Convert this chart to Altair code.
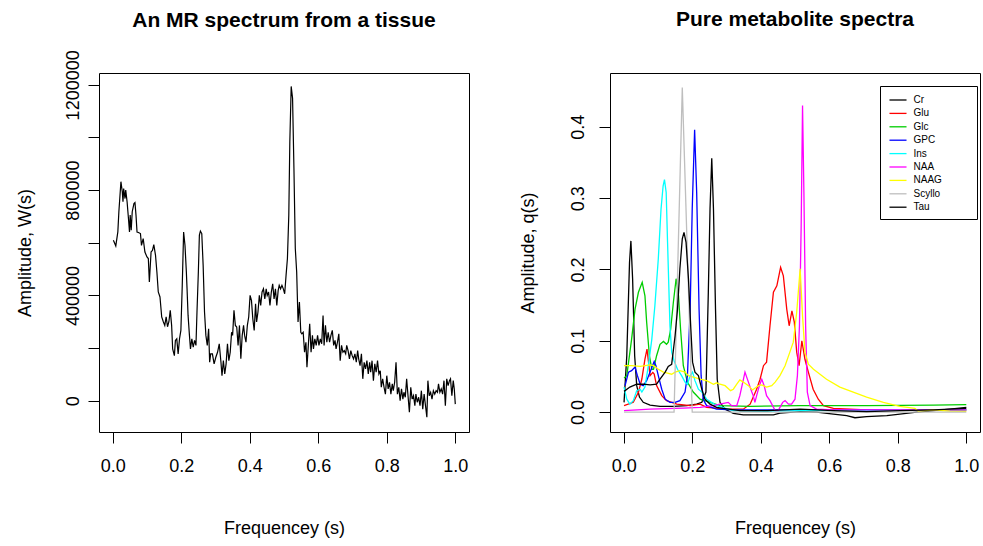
import altair as alt
import pandas as pd

FONT = "Liberation Sans"

# ---------------- left panel: tissue spectrum ----------------
w_freq = [0.002,0.009,0.015,0.018,0.024,0.028,0.030,0.032,0.036,0.038,0.042,0.046,0.049,0.051,0.054,0.057,
          0.062,0.065,0.068,0.071,0.075,0.081,0.084,0.089,0.094,0.100,0.104,0.107,0.112,0.116,0.120,0.125,
          0.129,0.133,0.138,0.143,0.148,0.152,0.156,0.160,0.164,0.168,0.172,0.175,0.180,0.183,0.187,0.191,
          0.195,0.199,0.203,0.207,0.211,0.215,0.217,0.220,0.224,0.227,0.231,0.235,0.239,0.243,0.246,0.250,
          0.253,0.256,0.260,0.264,0.268,0.272,0.276,0.280,0.283,0.286,0.291,0.296,0.301,0.306,0.311,0.316,
          0.319,0.323,0.327,0.331,0.335,0.339,0.343,0.347,0.350,0.354,0.358,0.362,0.366,0.370,0.374,0.378,
          0.382,0.385,0.389,0.393,0.397,0.401,0.405,0.409,0.413,0.417,0.420,0.424,0.428,0.432,0.436,0.440,
          0.444,0.448,0.451,0.455,0.459,0.463,0.467,0.471,0.475,0.479,0.483,0.486,0.490,0.494,0.498,0.502,
          0.506,0.510,0.514,0.517,0.521,0.525,0.529,0.533,0.537,0.541,0.545,0.549,0.552,0.556,0.560,0.564,
          0.567,0.571,0.575,0.579,0.583,0.586,0.590,0.594,0.598,0.602,0.606,0.610,0.614,0.617,0.621,0.625,
          0.629,0.633,0.637,0.641,0.645,0.649,0.652,0.656,0.660,0.664,0.668,0.672,0.676,0.680,0.683,0.687,
          0.691,0.695,0.699,0.703,0.707,0.711,0.715,0.718,0.722,0.726,0.730,0.734,0.738,0.742,0.746,0.750,
          0.753,0.757,0.761,0.765,0.769,0.773,0.777,0.781,0.784,0.788,0.792,0.796,0.800,0.804,0.808,0.812,
          0.816,0.819,0.823,0.827,0.831,0.835,0.839,0.843,0.847,0.850,0.854,0.858,0.862,0.866,0.870,0.874,
          0.878,0.882,0.885,0.889,0.893,0.897,0.901,0.905,0.909,0.913,0.917,0.920,0.924,0.928,0.932,0.936,
          0.940,0.944,0.948,0.951,0.955,0.959,0.963,0.967,0.971,0.975,0.979,0.983,0.986,0.990,0.994,0.997,1.000]
w_amp = [609500,588000,641500,717700,832000,794000,756000,806000,768000,800000,756000,692000,641000,705000,648000,718000,
         749000,753000,705000,641000,639000,635000,590000,616000,565000,546000,540000,451000,565000,571000,593000,552000,
         489000,413000,394000,318000,299000,286000,319000,281000,300000,343000,286000,197000,171000,229000,235000,178000,
         235000,267000,438000,641000,590000,489000,425000,324000,248000,197000,235000,203000,229000,210000,337000,489000,
         629000,644000,635000,514000,337000,248000,210000,273000,146000,178000,178000,140000,165000,184000,216000,146000,
         95000,152000,102000,140000,216000,152000,184000,260000,248000,343000,286000,280000,210000,286000,159000,248000,
         286000,248000,222000,286000,318000,400000,381000,311000,267000,368000,299000,337000,400000,362000,413000,425000,
         387000,425000,400000,413000,362000,413000,444000,387000,425000,362000,419000,438000,425000,438000,425000,406000,
         476000,540000,705000,984000,1194000,1149000,883000,578000,489000,299000,375000,260000,254000,260000,184000,222000,
         127000,210000,292000,184000,248000,197000,235000,210000,248000,210000,235000,216000,324000,210000,286000,222000,
         260000,222000,248000,267000,210000,229000,197000,222000,254000,152000,210000,184000,190000,178000,210000,190000,
         159000,190000,171000,159000,178000,146000,190000,159000,133000,178000,83000,146000,121000,152000,102000,146000,
         108000,152000,76000,140000,108000,152000,102000,114000,51000,83000,51000,25000,95000,45000,70000,25000,
         64000,38000,70000,146000,25000,51000,0,45000,6000,32000,13000,83000,19000,-44000,51000,6000,
         19000,-19000,25000,-6000,13000,-19000,38000,-32000,25000,-19000,-63000,76000,19000,32000,6000,38000,
         25000,38000,32000,64000,32000,45000,25000,76000,-19000,83000,57000,76000,83000,19000,76000,45000,-13000]

# ---------------- right panel: pure metabolite spectra ----------------
metabolites = ["Cr", "Glu", "Glc", "GPC", "Ins", "NAA", "NAAG", "Scyllo", "Tau"]
line_colors = ["#000000", "#FF0000", "#00CD00", "#0000FF", "#00FFFF", "#FF00FF", "#FFFF00", "#BEBEBE", "#000000"]

cr_f = [0.001,0.009,0.017,0.021,0.026,0.032,0.038,0.046,0.057,0.077,0.106,0.145,0.184,0.213,0.228,0.240,0.247,0.252,
        0.257,0.262,0.268,0.273,0.281,0.296,0.320,0.349,0.398,0.437,0.456,0.515,0.563,0.612,0.651,0.675,0.709,0.768,
        0.806,0.855,0.904,0.952,1.0]
cr_q = [0.0136,0.079,0.210,0.240,0.187,0.079,0.037,0.021,0.0136,0.0098,0.008,0.008,0.009,0.011,0.0136,0.028,0.168,0.285,
        0.356,0.285,0.144,0.046,0.0136,0.004,-0.002,-0.004,-0.004,-0.004,-0.0014,0.0005,0.0,-0.003,-0.005,-0.008,-0.0065,-0.005,
        -0.003,0.0,0.002,0.004,0.0065]

glu_f = [0.001,0.028,0.043,0.053,0.062,0.068,0.077,0.085,0.089,0.096,0.111,0.125,0.155,0.194,0.223,0.242,0.301,0.349,
         0.369,0.388,0.398,0.408,0.417,0.427,0.437,0.447,0.458,0.466,0.476,0.483,0.491,0.498,0.505,0.512,0.520,0.529,
         0.539,0.553,0.568,0.583,0.612,0.709,0.904,1.0]
glu_q = [0.0089,0.0136,0.0276,0.0463,0.0743,0.0884,0.051,0.0556,0.0533,0.037,0.023,0.016,0.011,0.009,0.011,0.0065,0.004,0.004,
         0.011,0.032,0.046,0.065,0.070,0.121,0.168,0.177,0.203,0.191,0.144,0.121,0.142,0.126,0.084,0.065,0.100,0.074,
         0.056,0.032,0.018,0.009,0.005,0.003,0.003,0.003]

glc_f = [0.001,0.009,0.023,0.033,0.043,0.054,0.062,0.067,0.075,0.082,0.087,0.096,0.106,0.116,0.125,0.130,0.137,0.145,
         0.153,0.160,0.166,0.174,0.186,0.203,0.223,0.252,0.281,0.369,0.515,0.709,0.904,1.0]
glc_q = [0.0477,0.051,0.102,0.144,0.168,0.182,0.163,0.126,0.079,0.060,0.060,0.079,0.095,0.099,0.095,0.098,0.116,0.154,
         0.187,0.163,0.116,0.065,0.042,0.028,0.018,0.0136,0.009,0.008,0.009,0.009,0.0098,0.0103]

gpc_f = [0.004,0.014,0.023,0.033,0.040,0.048,0.057,0.067,0.077,0.084,0.089,0.094,0.101,0.111,0.121,0.135,0.150,0.164,
         0.179,0.186,0.194,0.200,0.207,0.213,0.220,0.226,0.232,0.242,0.271,0.320,0.515,1.0]
gpc_q = [0.037,0.056,0.058,0.063,0.051,0.039,0.037,0.044,0.056,0.065,0.071,0.065,0.051,0.032,0.018,0.0136,0.0136,0.016,
         0.028,0.051,0.144,0.285,0.396,0.308,0.144,0.051,0.018,0.009,0.004,0.003,0.003,0.003]

ins_f = [0.001,0.009,0.018,0.028,0.038,0.048,0.053,0.062,0.072,0.082,0.091,0.101,0.109,0.115,0.119,0.124,0.128,0.135,
         0.140,0.147,0.157,0.169,0.179,0.186,0.194,0.201,0.208,0.218,0.228,0.242,0.271,0.320,0.417,0.515,0.709,0.904,1.0]
ins_q = [0.035,0.018,0.011,0.016,0.030,0.032,0.028,0.035,0.065,0.102,0.149,0.215,0.285,0.317,0.326,0.308,0.238,0.121,
         0.084,0.072,0.060,0.051,0.042,0.039,0.051,0.056,0.044,0.032,0.028,0.018,0.009,0.002,0.001,0.002,0.0023,0.003,0.003]

naa_f = [0.001,0.077,0.174,0.223,0.262,0.281,0.305,0.315,0.330,0.339,0.354,0.364,0.374,0.378,0.383,0.388,0.396,0.403,
         0.410,0.417,0.427,0.442,0.451,0.464,0.471,0.481,0.490,0.500,0.507,0.513,0.518,0.522,0.526,0.531,0.536,0.544,
         0.563,0.612,1.0]
naa_q = [0.002,0.004,0.0056,0.0065,0.009,0.011,0.0136,0.009,0.009,0.023,0.056,0.042,0.028,0.023,0.0136,0.023,0.037,0.046,
         0.037,0.023,0.016,0.002,0.002,0.0136,0.016,0.011,0.011,0.018,0.051,0.121,0.261,0.430,0.308,0.121,0.028,0.009,
         0.004,0.003,0.003]

naag_f = [0.001,0.023,0.048,0.077,0.087,0.101,0.116,0.125,0.140,0.150,0.164,0.179,0.189,0.203,0.223,0.242,0.262,0.271,
          0.281,0.296,0.312,0.320,0.330,0.339,0.349,0.364,0.376,0.393,0.403,0.417,0.432,0.442,0.456,0.471,0.485,0.495,
          0.505,0.515,0.522,0.529,0.539,0.554,0.592,0.631,0.670,0.709,0.758,0.806,0.850,0.860,0.904,0.952,1.0]
naag_q = [0.065,0.065,0.064,0.066,0.065,0.060,0.056,0.055,0.053,0.056,0.058,0.056,0.051,0.049,0.046,0.044,0.039,0.041,
          0.039,0.037,0.030,0.032,0.039,0.045,0.042,0.037,0.031,0.037,0.038,0.035,0.037,0.042,0.051,0.065,0.084,0.098,
          0.140,0.201,0.135,0.084,0.067,0.060,0.046,0.035,0.028,0.021,0.0136,0.008,0.005,0.001,0.003,0.0014,0.001]

scyllo_f = [0.001,0.147,0.171,0.200,1.0]
scyllo_q = [0.0,0.0,0.455,0.0,0.0]

tau_f = [0.001,0.018,0.038,0.057,0.077,0.096,0.106,0.121,0.130,0.140,0.150,0.157,0.164,0.171,0.176,0.182,0.189,0.196,
         0.201,0.208,0.218,0.228,0.237,0.252,0.271,0.290,0.340,0.420,0.515,0.612,0.709,0.806,0.904,1.0]
tau_q = [0.029,0.035,0.039,0.039,0.038,0.039,0.046,0.056,0.064,0.067,0.107,0.144,0.201,0.243,0.252,0.238,0.187,0.116,
         0.070,0.056,0.051,0.032,0.018,0.011,0.0065,0.005,0.002,0.002,0.004,0.002,0.0005,0.002,0.003,0.005]

series = [cr_f, glu_f, glc_f, gpc_f, ins_f, naa_f, naag_f, scyllo_f, tau_f]
values = [cr_q, glu_q, glc_q, gpc_q, ins_q, naa_q, naag_q, scyllo_q, tau_q]

left_df = pd.DataFrame({"f": w_freq, "w": w_amp})
rows = []
for k, (name, fs, qs) in enumerate(zip(metabolites, series, values)):
    for i, (f, q) in enumerate(zip(fs, qs)):
        rows.append({"name": name, "f": f, "q": q, "ord": k, "i": i})
right_df = pd.DataFrame(rows)

x_ticks = [0.0, 0.2, 0.4, 0.6, 0.8, 1.0]
x_scale = alt.Scale(domain=[-0.04, 1.04], nice=False, zero=False)

def title(t, off):
    return alt.TitleParams(t, fontSize=21, font=FONT, fontWeight="bold", anchor="middle", offset=off, color="black")

left = alt.Chart(left_df).mark_line(color="black", strokeWidth=1.2, clip=True).encode(
    x=alt.X("f:Q", scale=x_scale,
            axis=alt.Axis(values=x_ticks, format=".1f", title="Frequencey (s)")),
    y=alt.Y("w:Q", scale=alt.Scale(domain=[-119000, 1245000], nice=False, zero=False),
            axis=alt.Axis(values=[0, 200000, 400000, 600000, 800000, 1000000, 1200000], format="d",
                          labelExpr="datum.value % 400000 == 0 ? datum.label : ''",
                          labelAngle=-90, labelAlign="center", labelBaseline="bottom",
                          labelPadding=6, titlePadding=30, title="Amplitude, W(s)")),
    order="f:Q",
).properties(width=370, height=359, title=title("An MR spectrum from a tissue", 19))

pad_label = "datum.label + '" + "\u00a0" * 10 + "\u200b'"

right = alt.Chart(right_df).mark_line(strokeWidth=1.3, clip=True).encode(
    x=alt.X("f:Q", scale=x_scale,
            axis=alt.Axis(values=x_ticks, format=".1f", title="Frequencey (s)")),
    y=alt.Y("q:Q", scale=alt.Scale(domain=[-0.028, 0.4755], nice=False, zero=False),
            axis=alt.Axis(values=[0.0, 0.1, 0.2, 0.3, 0.4], format=".1f",
                          labelAngle=-90, labelAlign="center", labelBaseline="bottom",
                          labelPadding=12, titlePadding=32, title="Amplitude, q(s)")),
    color=alt.Color("name:N", scale=alt.Scale(domain=metabolites, range=line_colors),
                    sort=metabolites,
                    legend=alt.Legend(orient="none", legendX=270, legendY=13, title=None,
                                      symbolType="M-1.27,0H1.27", symbolStrokeWidth=1.3, symbolSize=180,
                                      symbolFillColor="transparent", symbolOffset=4,
                                      labelFontSize=10, labelFont=FONT, labelColor="black",
                                      labelExpr=pad_label,
                                      strokeColor="black", fillColor="white", padding=6.5,
                                      rowPadding=0.4, labelOffset=8)),
    detail="ord:O",
    order="i:Q",
).properties(width=370, height=359, title=title("Pure metabolite spectra", 43))

chart = alt.hconcat(left, right, spacing=48).resolve_legend(color="independent").properties(
    padding={"left": 15, "top": 8, "right": 1, "bottom": 0}
).configure_view(stroke="black", strokeWidth=1).configure_axis(
    grid=False, domain=False, tickColor="black", tickSize=11, tickWidth=1,
    labelColor="black", titleColor="black", labelFont=FONT, titleFont=FONT,
    labelFontSize=18, titleFontSize=18, titleFontWeight="normal",
    labelOverlap=False, labelFlush=False,
).configure_axisX(labelPadding=14, titlePadding=44)

chart.save("out.html", embed_options={"renderer": "svg", "actions": False})
